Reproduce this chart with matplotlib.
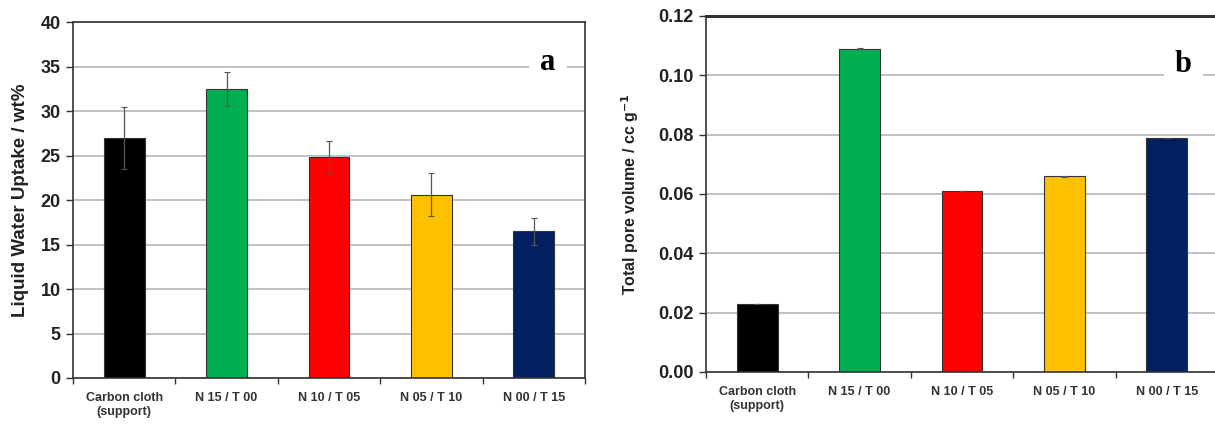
import matplotlib
matplotlib.use("Agg")
import matplotlib.pyplot as plt
import numpy as np

plt.rcParams['font.family'] = ['Liberation Sans', 'DejaVu Sans']

categories = ["Carbon cloth\n(support)", "N 15 / T 00", "N 10 / T 05", "N 05 / T 10", "N 00 / T 15"]
colors = ["#000000", "#00B050", "#FF0000", "#FFC000", "#002060"]

uptake = [27.0, 32.5, 24.8, 20.6, 16.5]
uptake_err = [3.5, 1.9, 1.8, 2.4, 1.5]

pore_volume = [0.023, 0.109, 0.061, 0.066, 0.079]
pore_err = [0.0, 0.0002, 0.0, 0.0002, 0.0]

W, H = 1215, 426
fig = plt.figure(figsize=(W / 100, H / 100), dpi=100)

ax1 = fig.add_axes([73 / W, 1 - 378 / H, 512 / W, 356 / H])
ax2 = fig.add_axes([706 / W, 1 - 372 / H, 512 / W, 356 / H])

x = np.arange(len(categories))


def style(ax, ylim, yticks, fmt, ylabel, letter, lx, ly, lw, lpad):
    ax.set_xlim(-0.5, len(categories) - 0.5)
    ax.set_ylim(*ylim)
    ax.set_yticks(yticks)
    ax.set_yticklabels([fmt.format(v) for v in yticks], fontsize=13,
                       fontweight='bold', color='#222222')
    ax.set_xticks(x)
    ax.set_xticklabels(categories, fontsize=9, fontweight='bold', color='#333333')
    ax.set_xticks(np.arange(-0.5, len(categories), 1.0), minor=True)
    ax.tick_params(axis='x', which='major', length=0, pad=10)
    ax.tick_params(axis='x', which='minor', length=4, width=1, color='#333333', direction='out')
    ax.tick_params(axis='y', length=5, width=1, color='#333333', direction='out', pad=4)
    ax.grid(axis='y', color='#b8b8b8', linewidth=1.2, zorder=0)
    ax.set_axisbelow(True)
    for s in ax.spines.values():
        s.set_color('#333333')
        s.set_linewidth(1.2)
    ax.set_ylabel(ylabel, fontsize=lw, fontweight='bold', color='#222222', labelpad=lpad)
    ax.text(lx, ly, letter, transform=ax.transAxes, fontsize=22, fontweight='bold',
            family='Liberation Serif', ha='center', va='center',
            bbox=dict(facecolor='white', edgecolor='none', pad=8), zorder=5)


ax1.bar(x, uptake, width=0.4, color=colors, edgecolor='#333333', linewidth=0.8, zorder=2)
ax1.errorbar(x, uptake, yerr=uptake_err, fmt='none', ecolor='#555555', elinewidth=0.9,
             capsize=2, capthick=0.8, zorder=3)
style(ax1, (0, 40), np.arange(0, 41, 5), "{:.0f}", "Liquid Water Uptake / wt%", "a",
      0.928, 0.885, 13.5, 8)

ax2.bar(x, pore_volume, width=0.4, color=colors, edgecolor='#333333', linewidth=0.8, zorder=2)
ax2.errorbar(x, pore_volume, yerr=pore_err, fmt='none', ecolor='#555555', elinewidth=0.9,
             capsize=2, capthick=0.8, zorder=3)
style(ax2, (0, 0.12), np.arange(0, 0.121, 0.02), "{:.2f}", "Total pore volume / cc g$^{\\mathbf{-1}}$", "b",
      0.932, 0.865, 11.5, 12)
ax2.spines['top'].set_linewidth(2.2)

fig.savefig("out.png", dpi=100)
